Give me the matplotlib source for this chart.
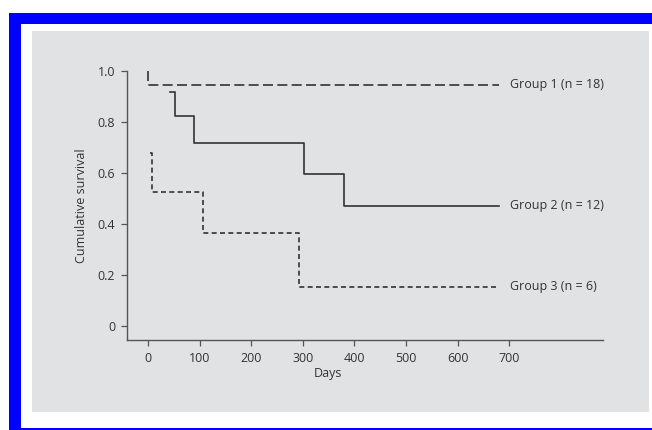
import matplotlib.pyplot as plt
from matplotlib.patches import Rectangle

# Kaplan-Meier step curves (days, survival)
g1_days = [0, 0, 680]
g1_surv = [1.0, 0.944, 0.944]

g2_days = [43, 52, 52, 88, 88, 302, 302, 379, 379, 680]
g2_surv = [0.917, 0.917, 0.821, 0.821, 0.715, 0.715, 0.595, 0.595, 0.471, 0.471]

g3_days = [3, 7, 7, 107, 107, 293, 293, 680]
g3_surv = [0.678, 0.678, 0.524, 0.524, 0.364, 0.364, 0.154, 0.154]

group_labels = ['Group 1 (n = 18)', 'Group 2 (n = 12)', 'Group 3 (n = 6)']
x_ticks = [0, 100, 200, 300, 400, 500, 600, 700]
y_ticks = [0, 0.2, 0.4, 0.6, 0.8, 1.0]
y_ticklabels = ['0', '0.2', '0.4', '0.6', '0.8', '1.0']

plt.rcParams['font.family'] = ['Open Sans', 'DejaVu Sans']
ink = '#333333'
W, H = 652, 430

fig = plt.figure(figsize=(W / 100, H / 100), dpi=100)
fig.patch.set_facecolor('white')

# page decoration: blue frame and grey panel
def px_rect(x0, y0, x1, y1, color):
    fig.patches.append(Rectangle((x0 / W, 1 - y1 / H), (x1 - x0) / W, (y1 - y0) / H,
                                 transform=fig.transFigure, color=color, lw=0, zorder=0))

px_rect(9, 13, 652, 24, '#0000ff')
px_rect(9, 13, 21, 430, '#0000ff')
px_rect(9, 427.5, 652, 430, '#0000ff')
px_rect(32, 31, 649, 412, '#e1e2e4')

ax = fig.add_axes([127 / W, 1 - 340.3 / H, (603 - 127) / W, (340.3 - 70.7) / H])
ax.set_facecolor('none')
ax.set_zorder(2)

ax.plot(g1_days, g1_surv, color=ink, lw=1.2, dashes=(6, 2.6))
ax.plot(g2_days, g2_surv, color=ink, lw=1.2)
ax.plot(g3_days, g3_surv, color=ink, lw=1.2, dashes=(3, 2))

fs = 9
for days, surv, lab in zip([g1_days, g2_days, g3_days], [g1_surv, g2_surv, g3_surv], group_labels):
    ax.text(days[-1] + 22, surv[-1], lab, ha='left', va='center', fontsize=fs, color=ink, clip_on=False)

ax.set_xlim(-41, 882)
ax.set_ylim(-0.056, 1.0)
ax.set_xticks(x_ticks)
ax.set_yticks(y_ticks)
ax.set_yticklabels(y_ticklabels)

for s in ['top', 'right']:
    ax.spines[s].set_visible(False)
for s in ['left', 'bottom']:
    ax.spines[s].set_color('#555555')
    ax.spines[s].set_linewidth(1.0)
ax.tick_params(colors='#555555', labelcolor=ink, labelsize=fs, length=4.5, width=0.9, pad=4)

ax.set_xlabel('Days', fontsize=fs, color=ink)
ax.xaxis.set_label_coords(0.422, -0.1)
ax.set_ylabel('Cumulative survival', fontsize=fs, color=ink, labelpad=7)

fig.savefig('out.png', dpi=100)
